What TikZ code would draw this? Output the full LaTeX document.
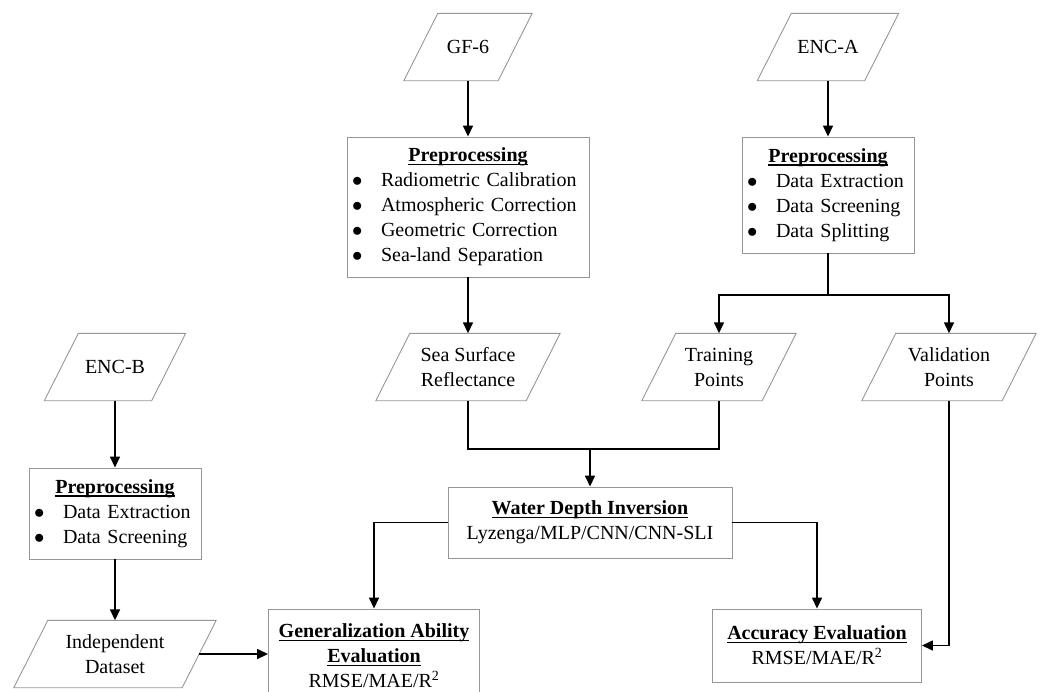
\documentclass[tikz,border=0pt]{standalone}
\usepackage{fontspec}
\setmainfont{Liberation Serif}
\usetikzlibrary{arrows.meta}
\setlength\parindent{0pt}
\definecolor{framegray}{RGB}{150,150,150}
\newcommand\hd[1]{{\bfseries\setbox0\hbox{#1}\rlap{\raisebox{-3.5pt}{\rule{\wd0}{1.5pt}}}\box0}}
\newcommand\itm{\makebox[29pt][l]{$\bullet$}}
\newcommand\slantbox[1]{\draw[framegray,line width=0.9pt] ([xshift=-17pt]#1.south west) -- ([xshift=17pt]#1.north west) -- ([xshift=17pt]#1.north east) -- ([xshift=-17pt]#1.south east) -- cycle;}

\begin{document}
\begin{tikzpicture}[x=1pt,y=-1pt] % bathymetry flow chart, 1 unit = 1 px
\tikzstyle{every node}+=[font=\fontsize{20}{25}\selectfont]
\tikzstyle{procbox}=[draw=framegray, line width=0.9pt, inner xsep=5pt, inner ysep=0pt]
\tikzstyle{data}=[inner sep=0pt, minimum height=67pt, align=center]
\tikzstyle{flow}=[black, line width=1.5pt, -{Triangle[length=11pt,width=10pt]}]
\tikzstyle{wire}=[black, line width=1.5pt]
\clip (0,0) rectangle (1043,691);

\node[data,minimum width=94pt] (gf) at (468,47) {GF-6};
\node[data,minimum width=107pt] (enca) at (828,47) {ENC-A};
\node[data,minimum width=107pt] (encb) at (115,367) {ENC-B};

\node[procbox,minimum height=140pt,text width=232pt,align=left] (gfpre) at (468,207)
  {\null\hfill\hd{Preprocessing}\hfill\null\\
   \itm Radiometric Calibration\\
   \itm Atmospheric Correction\\
   \itm Geometric Correction\\
   \itm Sea-land Separation};
\node[procbox,minimum height=116pt,text width=162pt,align=left] (encapre) at (828,195)
  {\null\hfill\hd{Preprocessing}\hfill\null\\
   \itm Data Extraction\\
   \itm Data Screening\\
   \itm Data Splitting};
\node[procbox,minimum height=91pt,text width=162pt,align=left] (encbpre) at (115,513.5)
  {\null\hfill\hd{Preprocessing}\hfill\null\\
   \itm Data Extraction\\
   \itm Data Screening};

\node[data,minimum width=150pt] (sea) at (468,367) {Sea Surface\\Reflectance};
\node[data,minimum width=120pt] (train) at (719,367) {Training\\Points};
\node[data,minimum width=140pt] (valid) at (949,367) {Validation\\Points};
\node[data,minimum width=168pt] (indep) at (115,654) {Independent\\Dataset};

\node[procbox,minimum width=284pt,minimum height=71pt,align=center] (water) at (590,522.5)
  {\hd{Water Depth Inversion}\\Lyzenga/MLP/CNN/CNN-SLI};
\node[procbox,minimum width=211pt,minimum height=94pt,align=center] (gen) at (374,656)
  {\hd{Generalization Ability}\\\hd{Evaluation}\\RMSE/MAE/R\textsuperscript{2}};
\node[procbox,minimum width=209pt,minimum height=73pt,align=center] (acc) at (817,645.5)
  {\hd{Accuracy Evaluation}\\RMSE/MAE/R\textsuperscript{2}};

\foreach \n in {gf,enca,encb,sea,train,valid,indep} \slantbox{\n};

\coordinate (split) at (828,295);
\coordinate (merge) at (590,449);
\draw[flow] (gf.south) -- (gfpre.north);
\draw[flow] (enca.south) -- (encapre.north);
\draw[flow] (gfpre.south) -- (sea.north);
\draw[wire] (encapre.south) -- (split);
\draw[flow] (split) -| (train.north);
\draw[flow] (split) -| (valid.north);
\draw[wire] (sea.south) |- (merge) -| (train.south);
\draw[flow] (merge) -- (water.north);
\draw[flow] (water.west) -| (gen.north);
\draw[flow] (water.east) -| (acc.north);
\draw[flow] (valid.south) |- (acc.east);
\draw[flow] (encb.south) -- (encbpre.north);
\draw[flow] (encbpre.south) -- (indep.north);
\draw[flow] (indep.east) -- (indep.east -| gen.west);
\end{tikzpicture}
\end{document}
